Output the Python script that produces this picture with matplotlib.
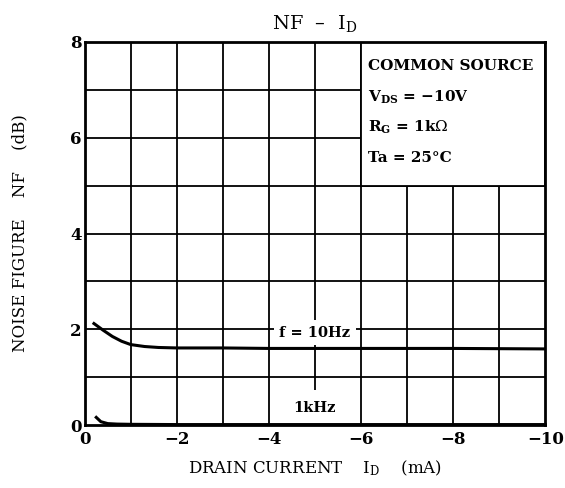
import matplotlib.pyplot as plt
from matplotlib.patches import Rectangle

plt.rcParams['font.family'] = 'DejaVu Serif'
plt.rcParams['mathtext.fontset'] = 'dejavuserif'

# drain current (mA) and noise figure (dB)
id_10hz = [-0.2, -0.4, -0.6, -0.8, -1.0, -1.3, -1.6, -2.0, -3.0, -4.0, -6.0, -8.0, -10.0]
nf_10hz = [2.12, 1.98, 1.85, 1.75, 1.68, 1.64, 1.62, 1.61, 1.61, 1.60, 1.60, 1.60, 1.59]
id_1khz = [-0.25, -0.35, -0.5, -0.7, -1.0, -2.0, -10.0]
nf_1khz = [0.16, 0.07, 0.03, 0.02, 0.015, 0.01, 0.01]

xticks = [0, -2, -4, -6, -8, -10]
xlabels = ['0', '\u22122', '\u22124', '\u22126', '\u22128', '\u221210']
yticks = [0, 2, 4, 6, 8]

conditions = ['COMMON SOURCE', 'V$_{\\mathregular{DS}}$ = \u221210V',
              'R$_{\\mathregular{G}}$ = 1k$\\Omega$', 'Ta = 25\u00b0C']

fig = plt.figure(figsize=(5.65, 4.88), dpi=100)
ax = fig.add_axes([0.150, 0.129, 0.815, 0.785])
ax.set_xlim(0, -10)
ax.set_ylim(0, 8)

for xv in range(-1, -10, -1):
    ax.axvline(xv, color='black', lw=1.3, zorder=1)
for yv in range(1, 8):
    ax.axhline(yv, color='black', lw=1.3, zorder=1)

# white box holding the test conditions
ax.add_patch(Rectangle((-6, 5), -4, 3, facecolor='white', edgecolor='black',
                       lw=1.3, zorder=2))
ytxt = [7.49, 6.84, 6.22, 5.58]
for s, yy in zip(conditions, ytxt):
    ax.text(-6.15, yy, s, fontsize=11, fontweight='bold', ha='left',
            va='center', zorder=3)

ax.text(-5.0, 1.93, 'f = 10Hz', fontsize=10.5, fontweight='bold', ha='center',
        va='center', zorder=3,
        bbox=dict(facecolor='white', edgecolor='none', pad=4))
ax.text(-5.0, 0.36, '1kHz', fontsize=10.5, fontweight='bold', ha='center',
        va='center', zorder=3,
        bbox=dict(facecolor='white', edgecolor='none', pad=8))

ax.plot(id_10hz, nf_10hz, color='black', lw=2.2, zorder=4)
ax.plot(id_1khz, nf_1khz, color='black', lw=2.2, zorder=4, clip_on=False)

ax.set_xticks(xticks)
ax.set_xticklabels(xlabels, fontsize=12, fontweight='bold')
ax.set_yticks(yticks)
ax.set_yticklabels([str(v) for v in yticks], fontsize=12, fontweight='bold')
ax.tick_params(axis='x', length=0, pad=4)
ax.tick_params(axis='y', length=0, pad=2)
for sp in ax.spines.values():
    sp.set_linewidth(2)
    sp.set_zorder(5)

ax.set_xlabel('DRAIN CURRENT    I$_{\\mathregular{D}}$    (mA)', fontsize=12,
              labelpad=8)
ax.set_ylabel('NOISE FIGURE    NF    (dB)', fontsize=12, labelpad=30)
ax.set_title('NF  \u2013  I$_{\\mathregular{D}}$', fontsize=14, pad=9)

fig.savefig('out.png', dpi=100)
